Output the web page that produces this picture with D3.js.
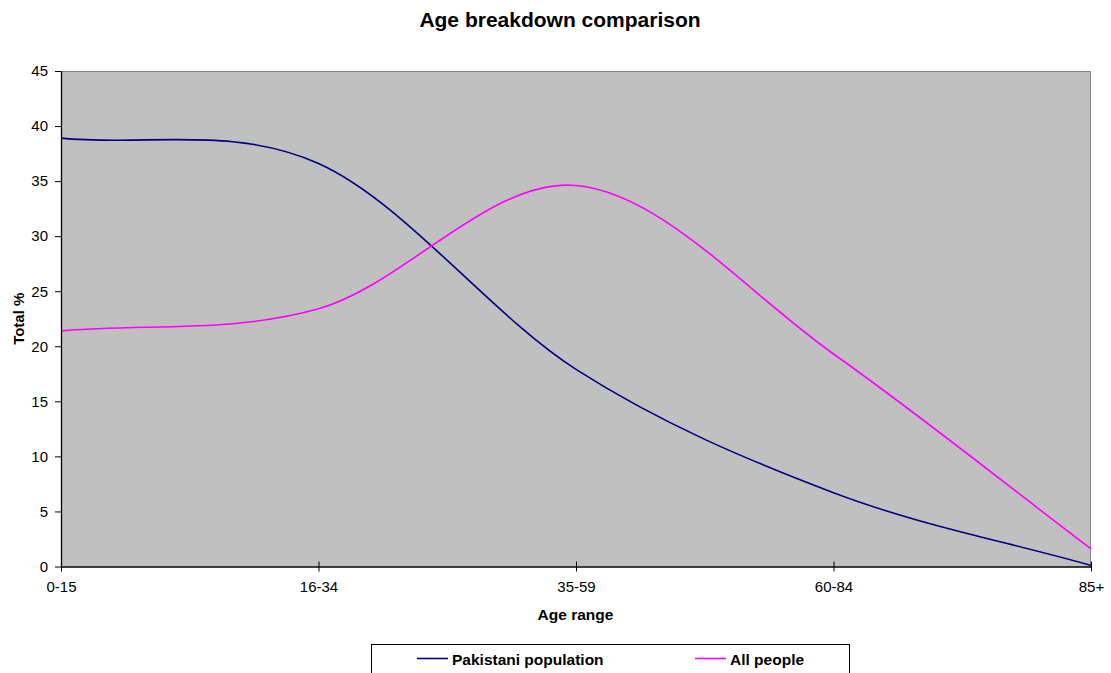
<!DOCTYPE html>
<html>
<head>
<meta charset="utf-8">
<script src="https://cdn.jsdelivr.net/npm/d3@7"></script>
<style>
  html, body { margin: 0; padding: 0; background: #fff; }
  svg { display: block; font-family: "Liberation Sans", Arial, sans-serif; }
</style>
</head>
<body>
<svg id="chart" width="1111" height="673"></svg>
<script>
// Age breakdown data (percent of total)
const categories = ["0-15", "16-34", "35-59", "60-84", "85+"];
const pakistani = [38.9, 36.6, 17.9, 6.7, 0.1];
const allPeople = [21.4, 23.4, 34.6, 19.3, 1.6];
const yTicks = [0, 5, 10, 15, 20, 25, 30, 35, 40, 45];
const seriesNames = ["Pakistani population", "All people"];
const seriesColors = ["#000080", "#FF00FF"];

// Smoothed curve: cubic Bezier segments, interior tangents from neighbours (1/6),
// end tangents taken along the first/last chord (1/3).
function smoothCurve(context) {
  let pts = [];
  return {
    areaStart() {}, areaEnd() {},
    lineStart() { pts = []; },
    point(x, y) { pts.push([+x, +y]); },
    lineEnd() {
      const n = pts.length;
      if (!n) return;
      context.moveTo(pts[0][0], pts[0][1]);
      if (n === 1) return;
      const tan = pts.map((p, i) => {
        if (i === 0) return [(pts[1][0] - p[0]) / 3, (pts[1][1] - p[1]) / 3];
        if (i === n - 1) return [(p[0] - pts[i - 1][0]) / 3, (p[1] - pts[i - 1][1]) / 3];
        return [(pts[i + 1][0] - pts[i - 1][0]) / 6, (pts[i + 1][1] - pts[i - 1][1]) / 6];
      });
      for (let i = 0; i < n - 1; i++) {
        const a = pts[i], b = pts[i + 1];
        context.bezierCurveTo(a[0] + tan[i][0], a[1] + tan[i][1],
          b[0] - tan[i + 1][0], b[1] - tan[i + 1][1], b[0], b[1]);
      }
    }
  };
}

const svg = d3.select("#chart");
const margin = { left: 61, top: 71 };
const width = 1091 - margin.left;
const height = 566.5 - margin.top;

const x = d3.scalePoint().domain(categories).range([0, width]);
const y = d3.scaleLinear().domain([0, 45]).range([height, 0]);

const g = svg.append("g").attr("transform", `translate(${margin.left},${margin.top})`);

// plot area
g.append("rect").attr("x", 0).attr("y", 0).attr("width", width).attr("height", height)
  .attr("fill", "#C0C0C0");
g.append("path").attr("d", `M0,0.5H${width - 0.5}V${height}`)
  .attr("fill", "none").attr("stroke", "#808080").attr("stroke-width", 1);

// series lines
const series = [pakistani, allPeople];
const line = d3.line()
  .x((d, i) => x(categories[i]))
  .y(d => y(d))
  .curve(smoothCurve);
series.forEach((vals, i) => {
  g.append("path").datum(vals).attr("d", line)
    .attr("fill", "none").attr("stroke", seriesColors[i]).attr("stroke-width", 1.6);
});

// axes
const yAxis = g.append("g").call(d3.axisLeft(y).tickValues(yTicks).tickSize(6).tickSizeOuter(0).tickPadding(7));
const xAxis = g.append("g").attr("transform", `translate(0,${height})`)
  .call(d3.axisBottom(x).tickSize(5).tickSizeOuter(0).tickPadding(10));
[yAxis, xAxis].forEach(a => {
  a.select(".domain").attr("stroke", "#000").attr("stroke-width", 1.3);
  a.selectAll(".tick line").attr("stroke", "#000");
  a.selectAll(".tick text").attr("font-size", 15).attr("fill", "#000")
    .attr("font-family", "Liberation Sans, Arial, sans-serif");
});
// x ticks straddle the axis
xAxis.selectAll(".tick line").attr("y1", -5).attr("y2", 5);

// titles
svg.append("text").attr("x", 560).attr("y", 26.5).attr("text-anchor", "middle")
  .attr("font-size", 21).attr("font-weight", "bold").text("Age breakdown comparison");
svg.append("text").attr("x", margin.left + width / 2 - 0.5).attr("y", 620).attr("text-anchor", "middle")
  .attr("font-size", 15.5).attr("font-weight", "bold").text("Age range");
svg.append("text").attr("transform", `translate(23.5,${margin.top + height / 2}) rotate(-90)`)
  .attr("text-anchor", "middle").attr("font-size", 15).attr("font-weight", "bold").text("Total %");

// legend
const lg = svg.append("g");
lg.append("rect").attr("x", 371.5).attr("y", 644.5).attr("width", 478).attr("height", 40)
  .attr("fill", "#fff").attr("stroke", "#000").attr("stroke-width", 1);
const legendX = [417, 695];
seriesNames.forEach((name, i) => {
  lg.append("line").attr("x1", legendX[i]).attr("x2", legendX[i] + 31)
    .attr("y1", 658.5).attr("y2", 658.5).attr("stroke", seriesColors[i]).attr("stroke-width", 1.6);
  lg.append("text").attr("x", legendX[i] + 35).attr("y", 664.5)
    .attr("font-size", 15.5).attr("font-weight", "bold").text(name);
});
</script>
</body>
</html>
